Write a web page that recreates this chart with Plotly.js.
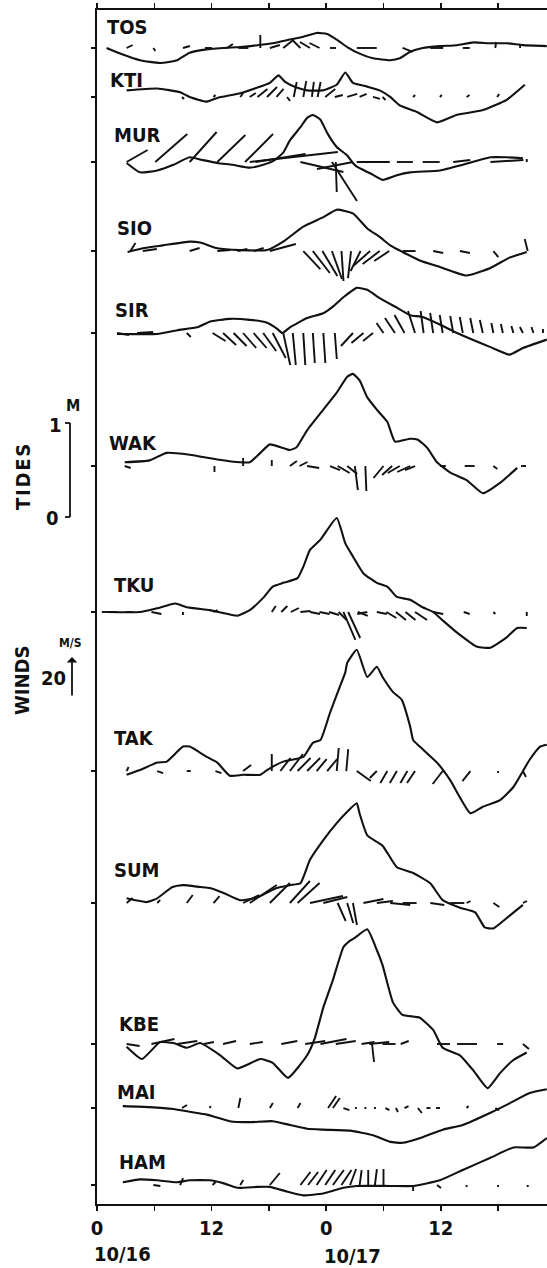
<!DOCTYPE html>
<html><head><meta charset="utf-8">
<script src="https://cdn.plot.ly/plotly-3.0.1.min.js"></script>
<style>html,body{margin:0;padding:0;background:#fff;}#chart{width:547px;height:1268px;}</style>
</head><body><div id="chart"></div>
<script>
// ---------------- DATA (hours from 10/16 00h; tide in m; wind u,v in m/s) ----------------
const STATIONS = ['TOS','KTI','MUR','SIO','SIR','WAK','TKU','TAK','SUM','KBE','MAI','HAM'];

const TOS_t = [1.0,2.7,4.5,6.6,8.4,9.7,11.1,13.2,15.0,16.8,18.4,20.2,21.6,23.0,24.1,25.1,26.2,27.5,28.9,30.7,31.7,32.8,34.1,35.9,37.7,39.4,41.2,42.9,44.6,47.1];
const TOS_h = [0.00,-0.07,-0.13,-0.16,-0.13,-0.05,-0.02,0.00,0.01,0.03,0.05,0.09,0.12,0.16,0.15,0.09,0.01,-0.06,-0.11,-0.13,-0.11,-0.04,0.00,0.02,0.03,0.06,0.05,0.05,0.03,0.02];
const TOS_wt = [3.1,5.9,9.0,11.3,13.6,14.8,17.1,18.1,19.5,21.3,22.3,23.3,24.4,27.2,32.0,34.9,38.3,41.7,44.3];
const TOS_wu = [3,1,3.5,3.5,3,5,0,5,5,-4,-5,-5,3,10,5,6.5,3.5,0.5,0];
const TOS_wv = [1.5,-1.5,1,0,2,0,6.5,1.5,4,4,3,2.5,0,0,-2,0,0,3,2];

const KTI_t = [3.1,6.3,8.7,9.7,11.5,12.6,15.0,16.8,18.1,19.0,19.7,20.9,22.0,23.6,25.1,26.0,26.8,28.3,29.6,30.7,31.7,33.5,35.6,37.7,40.4,42.9,44.8];
const KTI_h = [0.07,0.09,0.05,0.0,-0.05,-0.01,0.04,0.10,0.15,0.23,0.16,0.10,0.07,0.07,0.13,0.26,0.15,0.11,0.07,0.0,-0.09,-0.16,-0.27,-0.19,-0.14,-0.03,0.13];
const KTI_wt = [8.9,12.2,15.0,16.0,16.8,17.8,18.8,19.9,20.6,21.6,22.5,23.1,23.9,24.9,26.2,27.5,28.9,29.9,33.1,35.9,38.7,41.9];
const KTI_wu = [1,1,1.5,3,5,5,3.5,1.5,1.5,1.5,1,1.5,5,4,5,3.5,3.5,1.5,1,1,1.5,1];
const KTI_wv = [-1,1,2,2,4,5,4,-2,7.5,8,7.5,7.5,4,1,1.5,1.5,-1,-1.5,1,1,1,1.5];

const MUR_t = [3.1,4.5,6.3,8.0,9.7,11.1,12.6,14.2,16.0,17.4,18.6,19.5,20.2,21.3,22.0,22.6,23.4,24.1,25.1,26.2,26.8,27.2,28.6,29.9,31.4,32.8,35.9,38.3,41.2,42.9,44.6];
const MUR_h = [-0.01,-0.11,-0.09,-0.03,0.05,0.02,-0.01,-0.03,-0.06,-0.03,0.02,0.10,0.23,0.37,0.47,0.50,0.45,0.31,0.16,0.07,-0.01,-0.05,-0.12,-0.19,-0.14,-0.11,-0.09,-0.03,0.05,0.05,0.04];
const MUR_wt = [3.1,6.1,9.7,12.6,15.5,16.0,16.6,21.3,24.6,25.0,26.8,27.2,31.4,34.1,37.3,41.2,45.0];
const MUR_wu = [10.5,16,13.5,14,14,44,25,21.5,12.5,0.5,-18,16.5,8,8.5,8.5,16.5,0];
const MUR_wv = [6,14,15,13.5,14,5,4,-5,-19.5,-15,-3.5,0,0,0,1,1,1.5];

const SIO_t = [3.2,4.8,6.9,9.7,10.8,12.6,15.0,17.8,19.5,21.6,23.7,25.1,26.8,28.3,29.6,30.7,32.0,33.8,35.9,38.7,41.2,43.2,45.0];
const SIO_h = [-0.01,0.03,0.06,0.10,0.09,0.03,0.01,0.01,0.10,0.26,0.36,0.44,0.40,0.24,0.15,0.06,-0.01,-0.10,-0.17,-0.26,-0.18,-0.07,-0.01];
const SIO_wt = [3.5,4.8,9.7,12.6,14.7,16.4,18.1,21.6,22.6,23.6,24.6,25.6,26.6,27.6,28.6,29.6,30.6,32.0,35.2,38.0,41.5,45.1];
const SIO_wu = [2.5,7,5,6.5,5,5,13,8.5,8.5,7.5,5,1,-1.5,-5,-8.5,-8.5,-7.5,6.5,5,5,2.5,-1.5];
const SIO_wv = [4,1,1.5,0.5,1,1.5,3.5,-9,-11,-12.5,-14,-15,-13.5,-10,-7.5,-6.5,-5,0,-1,-1,-3,6];

const SIR_t = [2.1,6.3,8.4,10.5,11.8,13.9,16.0,17.8,18.8,19.4,20.2,22.0,23.7,24.7,25.8,27.2,28.3,29.6,31.4,32.8,34.1,35.9,37.7,41.2,43.2,44.6,47.1];
const SIR_h = [-0.01,-0.01,0.03,0.06,0.12,0.15,0.14,0.11,0.05,0.0,0.06,0.16,0.21,0.28,0.38,0.48,0.46,0.37,0.27,0.19,0.17,0.09,0.0,-0.15,-0.23,-0.16,-0.07];
const SIR_wt = [2.1,4.2,9.4,12.1,13.2,14.3,15.3,16.4,17.4,18.4,19.5,20.5,21.6,22.6,23.7,24.9,26.8,27.9,28.9,30.0,31.2,32.2,33.3,34.2,35.2,36.2,37.3,38.3,39.4,40.4,41.5,42.5,43.6,44.6,45.7,46.7];
const SIR_wu = [6,8,2,6.5,6.5,6.5,6.5,6.5,6.5,6.5,3.5,1.5,1,1,1,1,-6,-6,-5,-3.5,-5,-5,-3.5,-1.5,-1.5,-1.5,-1.5,-1.5,-1.5,-1.5,-1,-1,-1,-1.5,-1,0];
const SIR_wv = [-1,0.5,-2,-4,-6,-6.5,-7.5,-7.5,-9,-12.5,-16,-16,-16,-15,-15,-13,-6.5,-5,-4,5,7.5,9,11,11,10,9,8.5,8,7.5,6.5,5,4.5,3.5,3,3,2];

const WAK_t = [2.9,5.5,7.3,9.7,12.6,15.0,16.0,17.1,18.1,20.2,20.9,22.0,23.7,25.1,26.2,26.8,27.5,28.3,29.3,30.4,31.2,32.8,33.6,34.6,35.6,37.0,38.7,40.4,42.2,44.0];
const WAK_h = [0.04,0.06,0.14,0.12,0.07,0.04,0.04,0.14,0.23,0.17,0.20,0.38,0.60,0.78,0.95,0.98,0.91,0.73,0.60,0.47,0.26,0.29,0.28,0.19,0.04,-0.07,-0.15,-0.29,-0.18,-0.02];
const WAK_wt = [2.9,12.3,15.3,18.3,20.2,21.2,22.0,24.4,25.2,26.2,27.0,28.1,30.0,30.9,31.7,32.8,33.3,35.9,38.5,41.5,44.4];
const WAK_wu = [3,0,0,0,3.5,4,6,5,6,5,1.5,0.5,-5,-5,-6,-6.5,-5,3,5,2,2.5];
const WAK_wv = [-1,-3,4,3,2.5,2,-1,-2,-3.5,-4,-12,-12.5,-6,-4.5,-3.5,-3,-2,0,0,-1.5,0];

const TKU_t = [1.0,4.5,6.3,8.2,9.4,11.8,13.2,14.7,16.0,17.4,18.4,19.5,21.0,21.6,22.3,23.4,25.1,26.0,26.8,27.9,29.3,30.4,31.4,32.8,34.1,35.2,36.2,37.7,39.8,41.2,42.9,44.0,45.0];
const TKU_h = [0.0,0.0,0.04,0.09,0.05,0.02,-0.01,-0.04,0.02,0.15,0.27,0.31,0.36,0.48,0.66,0.77,1.00,0.73,0.59,0.41,0.31,0.27,0.16,0.13,0.05,0.0,-0.09,-0.22,-0.37,-0.38,-0.27,-0.17,-0.17];
const TKU_wt = [0.5,3.0,5.7,9.0,12.2,18.3,19.3,20.3,21.3,22.3,23.3,24.3,25.3,25.8,26.3,27.3,28.3,29.3,30.3,31.3,32.3,33.3,35.2,38.4,41.5,45.0];
const TKU_wu = [8,3.5,5,0,2,2,3,4,5,5,5,5,4,6,6,5,-5,5,5,5,5,6,5,3,1,0];
const TKU_wv = [0,0,-1,-1.5,1,3,3,2,0.5,-1,-1,-1.5,-4,-14,-13,-2,-1,-1,-3,-4,-4,-4,-1,-1,-1,-2];

const TAK_t = [3.1,4.5,6.3,7.3,9.0,9.7,11.5,12.6,13.9,15.3,17.1,17.8,19.5,21.6,22.6,23.4,24.4,25.4,26.0,26.2,27.2,28.3,29.3,29.9,31.0,31.9,32.8,33.1,33.8,35.6,37.0,38.0,39.1,40.4,42.2,43.6,45.3,46.4,47.1];
const TAK_h = [-0.04,0.01,0.09,0.10,0.26,0.26,0.15,0.09,-0.05,-0.04,-0.04,0.01,0.10,0.15,0.30,0.33,0.62,0.89,1.05,1.15,1.29,1.00,1.11,1.00,0.84,0.76,0.47,0.33,0.26,0.09,-0.10,-0.28,-0.45,-0.38,-0.31,-0.17,0.12,0.26,0.28];
const TAK_wt = [3.1,6.3,9.4,12.4,15.3,18.3,19.2,20.2,21.0,22.0,23.0,24.1,25.1,26.1,27.2,29.3,30.4,31.4,32.5,33.3,36.2,39.1,42.0,44.6];
const TAK_wu = [1,3,2,3,4,0,5,6.5,6.5,6.5,5,5,1,1,7,-3.5,-3.5,-3.5,-3.5,-4,-5,-4,0,1.5];
const TAK_wv = [2,-1,0,-1,3,8.5,6.5,8.5,6.5,6.5,6,6,11.5,11,-5,-3.5,-6,-6,-6,-6,-6.5,-5,-1,-3];

const SUM_t = [3.1,5.2,6.3,7.9,9.0,10.8,11.8,13.2,15.0,16.8,18.8,20.2,21.3,22.3,23.7,25.1,26.2,27.2,27.5,28.3,29.9,31.4,33.1,34.9,36.2,38.0,39.6,40.6,41.5,42.9,44.6];
const SUM_h = [0.05,0.01,0.05,0.17,0.19,0.17,0.16,0.11,0.03,0.06,0.16,0.19,0.21,0.46,0.67,0.85,0.97,1.06,0.95,0.72,0.61,0.38,0.32,0.21,0.03,-0.05,-0.10,-0.26,-0.27,-0.16,-0.02];
const SUM_wt = [3.1,6.3,9.4,12.2,15.3,16.0,18.1,20.2,21.0,22.3,23.7,25.2,26.2,26.8,27.9,29.3,30.7,32.0,34.9,37.0,38.7,41.5,44.6];
const SUM_wu = [3,1.5,3,3,8,13.5,10,10,11,16.5,12,4,3,2,10,8,10,7,7,7,2,3,2];
const SUM_wv = [2.5,1.5,4,3.5,4,9,10,11,10,3.5,3,-9,-10,-11,2,1,-1,0,-1,0,1,-2,1];

const KBE_t = [3.1,4.7,6.6,8.0,9.4,10.8,12.9,14.7,17.1,18.4,20.0,22.0,22.8,23.7,24.7,25.8,26.5,27.0,28.3,29.3,29.9,31.0,32.0,33.8,35.2,36.2,38.0,39.4,40.9,42.2,43.6,45.0];
const KBE_h = [-0.03,-0.16,0.02,0.01,-0.04,0.01,-0.12,-0.26,-0.16,-0.20,-0.36,-0.12,0.06,0.39,0.68,1.03,1.10,1.13,1.22,1.00,0.84,0.44,0.31,0.28,0.15,-0.04,-0.12,-0.28,-0.47,-0.31,-0.17,-0.09];
const KBE_wt = [3.1,5.7,8.4,11.2,13.2,16.0,19.3,21.8,23.4,25.0,27.7,28.5,28.8,29.9,31.8,35.6,37.7,41.9,44.6];
const KBE_wu = [6.5,11.5,10,5,6.5,6.5,8,10,13,10,6.5,10,1,6.5,4,6.5,10,3,3];
const KBE_wv = [-1,2.5,1.5,1,1.5,1,1.5,1.5,2.5,1.5,1,1,-9,0,1.5,0,0,0,-2.5];

const MAI_t = [2.7,5.5,8.0,9.7,11.5,13.9,16.0,18.4,20.2,22.0,23.7,26.5,28.9,30.7,32.0,34.1,36.2,38.3,41.2,43.2,45.3,47.1];
const MAI_h = [0.02,0.01,-0.01,-0.04,-0.07,-0.14,-0.15,-0.14,-0.18,-0.22,-0.23,-0.24,-0.29,-0.36,-0.37,-0.31,-0.23,-0.18,-0.05,0.05,0.16,0.20];
const MAI_wt = [8.9,11.8,14.8,18.1,21.0,24.2,24.7,25.8,27.0,28.0,29.0,30.2,31.3,32.2,33.6,34.5,35.5,38.7,41.7];
const MAI_wu = [2.5,0.5,1,1.5,1.5,4,3.5,3,1,1,1,2,1,2,2,2,2,1,2];
const MAI_wv = [1.5,1,5,2.5,2.5,6,5,-1,0,0,0,-1,-2,1,-2.5,0,0,1,-1];

const HAM_t = [2.7,4.5,6.3,8.4,9.7,11.8,13.2,14.7,16.8,18.1,19.9,21.6,23.7,25.8,27.2,30.7,33.1,35.9,38.3,41.2,43.6,45.7,47.1];
const HAM_h = [0.03,0.06,0.05,0.03,0.05,0.05,0.02,-0.03,-0.02,-0.02,-0.07,-0.11,-0.09,-0.03,-0.01,-0.01,-0.01,0.05,0.16,0.29,0.40,0.40,0.50];
const HAM_wt = [5.9,8.7,12.1,15.0,18.1,21.3,22.1,23.0,23.9,24.7,25.6,26.5,27.5,28.4,29.1,30.0,33.1,35.6,38.7,42.0,45.1];
const HAM_wu = [3.5,1.5,1.5,1.5,5,5,5,5,5,5.5,5,3,1,0,1,0,0,2,0,0,0];
const HAM_wv = [-0.5,3.5,1.5,2.5,6,6.5,6.5,7.5,7.5,7.5,7.5,8,7.5,7.5,8,8,-3,-1.5,-1,-1,-1];

const X_TICKS = [0,6,12,18,24,30,36,42];
const X_TICKTEXT = ['0','','12','','0','','12',''];
const DATE_LABELS = ['10/16','10/17'];

// ---------------- LAYOUT CONSTANTS ----------------
const W = 547, H = 1268, ML = 97, MT = 10, MB = 64;
const PLOT_W = W - ML, PLOT_H = H - MT - MB;
const PX_PER_HOUR = 9.55, PX_PER_M = 94;
const XMAX = PLOT_W / PX_PER_HOUR, YMAX = PLOT_H / PX_PER_M;
const PX_PER_MS = 2;                  // 20 m/s = 40 px
const KX = PX_PER_MS / PX_PER_HOUR, KY = PX_PER_MS / PX_PER_M;
// vertical position (axis units) of each station's zero line
const ROW_BASE = [12.298,11.777,11.085,10.138,9.266,7.851,6.298,4.606,3.202,1.702,1.021,0.202];
const LABEL_X = [0.84,1.15,1.57,1.88,1.68,1.05,1.57,1.57,1.57,2.09,1.88,2.09];
const LABEL_DY = [0.22,0.18,0.29,0.24,0.24,0.25,0.29,0.35,0.35,0.21,0.17,0.25];
const FONT = 'DejaVu Sans Condensed, Liberation Sans Narrow, Arial Narrow, sans-serif';
const INK = '#111';

const DATA = {TOS:[TOS_t,TOS_h,TOS_wt,TOS_wu,TOS_wv],KTI:[KTI_t,KTI_h,KTI_wt,KTI_wu,KTI_wv],
  MUR:[MUR_t,MUR_h,MUR_wt,MUR_wu,MUR_wv],SIO:[SIO_t,SIO_h,SIO_wt,SIO_wu,SIO_wv],
  SIR:[SIR_t,SIR_h,SIR_wt,SIR_wu,SIR_wv],WAK:[WAK_t,WAK_h,WAK_wt,WAK_wu,WAK_wv],
  TKU:[TKU_t,TKU_h,TKU_wt,TKU_wu,TKU_wv],TAK:[TAK_t,TAK_h,TAK_wt,TAK_wu,TAK_wv],
  SUM:[SUM_t,SUM_h,SUM_wt,SUM_wu,SUM_wv],KBE:[KBE_t,KBE_h,KBE_wt,KBE_wu,KBE_wv],
  MAI:[MAI_t,MAI_h,MAI_wt,MAI_wu,MAI_wv],HAM:[HAM_t,HAM_h,HAM_wt,HAM_wu,HAM_wv]};

const traces = [];
const annotations = [];
STATIONS.forEach((s, i) => {
  const [t, h, wt, wu, wv] = DATA[s];
  const b = ROW_BASE[i];
  traces.push({x: t, y: h.map(v => b + v), type: 'scatter', mode: 'lines',
    line: {color: INK, width: 2.1, shape: 'spline', smoothing: 0.45}, hoverinfo: 'skip', showlegend: false});
  const sx = [], sy = [];
  wt.forEach((tt, k) => {
    sx.push(tt, tt + wu[k] * KX, null);
    sy.push(b, b + wv[k] * KY, null);
  });
  traces.push({x: sx, y: sy, type: 'scatter', mode: 'lines',
    line: {color: INK, width: 1.9}, hoverinfo: 'skip', showlegend: false, connectgaps: false});
  annotations.push({x: LABEL_X[i], y: b + LABEL_DY[i], xref: 'x', yref: 'y', text: s,
    showarrow: false, xanchor: 'left', yanchor: 'middle',
    font: {family: FONT, size: 20, color: INK, weight: 'bold'}});
});

const px2paperX = px => (px - ML) / PLOT_W;
const py2y = py => (H - MB - py) / PX_PER_M;

// date labels
annotations.push({x: 2.72, y: -0.0419, xref: 'x', yref: 'paper', text: DATE_LABELS[0], showarrow: false,
  xanchor: 'center', yanchor: 'middle', font: {family: FONT, size: 20, color: INK, weight: 'bold'}});
annotations.push({x: 26.8, y: -0.0436, xref: 'x', yref: 'paper', text: DATE_LABELS[1], showarrow: false,
  xanchor: 'center', yanchor: 'middle', font: {family: FONT, size: 20, color: INK, weight: 'bold'}});

// scale texts
const sideText = (px, py, txt, size, angle) => annotations.push({x: px2paperX(px), y: py2y(py), xref: 'paper', yref: 'y',
  text: txt, showarrow: false, xanchor: 'center', yanchor: 'middle', textangle: angle || 0,
  font: {family: FONT, size: size, color: INK, weight: 'bold'}});
sideText(23, 477, 'T\u200aI\u200aD\u200aE\u200aS', 20, -90);
sideText(22, 680, 'WINDS', 20, -90);
sideText(55, 425, '1', 20);
sideText(52, 518, '0', 20);
sideText(73, 405, 'M', 16);
sideText(53, 678, '20', 20);
sideText(70, 643, 'M/S', 12);
// wind scale arrow: 20 m/s
annotations.push({x: px2paperX(72), y: py2y(697) + 20 * KY, xref: 'paper', yref: 'y',
  ax: 0, ay: 20 * PX_PER_MS, axref: 'pixel', ayref: 'pixel', showarrow: true, text: '',
  arrowhead: 1, arrowsize: 1, arrowwidth: 1.8, arrowcolor: INK});

const shapes = [
  {type: 'line', xref: 'paper', yref: 'y', x0: px2paperX(70), x1: px2paperX(70), y0: py2y(517), y1: py2y(517) + 1, line: {color: INK, width: 1.8}},
  {type: 'line', xref: 'paper', yref: 'y', x0: px2paperX(65), x1: px2paperX(70), y0: py2y(517) + 1, y1: py2y(517) + 1, line: {color: INK, width: 1.8}},
  {type: 'line', xref: 'paper', yref: 'y', x0: px2paperX(65), x1: px2paperX(70), y0: py2y(517), y1: py2y(517), line: {color: INK, width: 1.8}}
];

const layout = {
  width: W, height: H, margin: {l: ML, r: 0, t: MT, b: MB, pad: 0},
  paper_bgcolor: '#fff', plot_bgcolor: '#fff', showlegend: false,
  xaxis: {range: [0, XMAX], showline: true, linewidth: 2, linecolor: INK, mirror: 'ticks',
    ticks: 'outside', ticklen: 5, tickwidth: 1.5, tickcolor: INK,
    tickvals: X_TICKS, ticktext: X_TICKTEXT, showgrid: false, zeroline: false, fixedrange: true,
    tickfont: {family: FONT, size: 20, color: INK, weight: 'bold'}},
  yaxis: {range: [0, YMAX], showline: true, linewidth: 2, linecolor: INK, mirror: false,
    ticks: 'outside', ticklen: 4, tickwidth: 1.5, tickcolor: INK, tickvals: ROW_BASE,
    showticklabels: false, showgrid: false, zeroline: false, fixedrange: true},
  annotations: annotations, shapes: shapes
};

Plotly.newPlot('chart', traces, layout, {staticPlot: true, displayModeBar: false});
</script></body></html>
